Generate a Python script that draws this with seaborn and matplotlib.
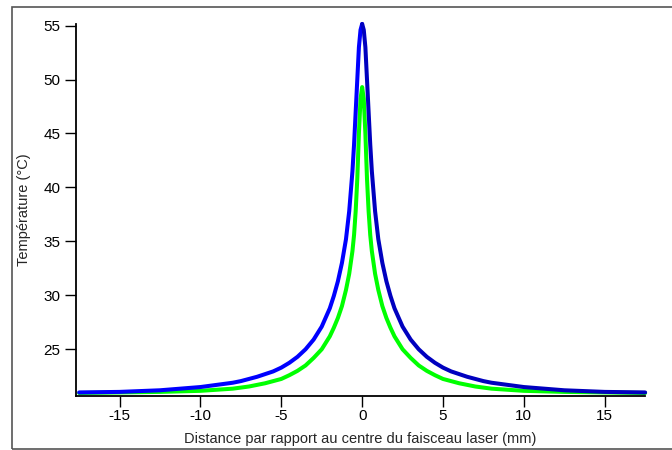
import matplotlib
matplotlib.use("Agg")
import matplotlib.pyplot as plt
from matplotlib.patches import Rectangle
import pandas as pd
import seaborn as sns

# values (distance in mm, temperature in degC)
distance_mm = [-17.5, -15.0, -12.5, -10.0, -9.0, -8.0, -7.5, -7.0, -6.5, -6.0, -5.5, -5.0, -4.5,
               -4.0, -3.5, -3.0, -2.5, -2.0, -1.75, -1.5, -1.25, -1.0, -0.8, -0.6, -0.5,
               -0.4, -0.3, -0.2, -0.1, 0.0,
               0.1, 0.2, 0.3, 0.4, 0.5, 0.6, 0.8, 1.0, 1.25, 1.5, 1.75, 2.0, 2.5,
               3.0, 3.5, 4.0, 4.5, 5.0, 5.5, 6.0, 6.5, 7.0, 7.5, 8.0, 9.0, 10.0,
               12.5, 15.0, 17.5]
temp_blue = [21.0, 21.05, 21.2, 21.5, 21.7, 21.9, 22.05, 22.25, 22.45, 22.7, 22.95, 23.3, 23.75,
             24.3, 25.0, 25.9, 27.1, 28.8, 29.95, 31.3, 33.0, 35.2, 37.8, 41.5, 44.0,
             47.0, 50.0, 53.0, 54.6, 55.15,
             54.6, 53.0, 50.0, 47.0, 44.0, 41.5, 37.8, 35.2, 33.0, 31.3, 29.95, 28.8, 27.1,
             25.9, 25.0, 24.3, 23.75, 23.3, 22.95, 22.7, 22.45, 22.25, 22.05, 21.9, 21.7, 21.5,
             21.2, 21.05, 21.0]
temp_green = [20.95, 21.0, 21.05, 21.15, 21.25, 21.35, 21.45, 21.55, 21.7, 21.85, 22.05, 22.25, 22.6,
              23.0, 23.5, 24.2, 25.0, 26.2, 27.0, 27.9, 29.0, 30.5, 32.0, 34.1, 35.6,
              37.8, 40.8, 45.0, 48.2, 49.3,
              48.2, 45.0, 40.8, 37.8, 35.6, 34.1, 32.0, 30.5, 29.0, 27.9, 27.0, 26.2, 25.0,
              24.2, 23.5, 23.0, 22.6, 22.25, 22.05, 21.85, 21.7, 21.55, 21.45, 21.35, 21.25, 21.15,
              21.05, 21.0, 20.95]

x_ticks = [-15, -10, -5, 0, 5, 10, 15]
y_ticks = [25, 30, 35, 40, 45, 50, 55]

df = pd.DataFrame({"x": distance_mm, "blue": temp_blue, "green": temp_green})

sns.set_theme(style="ticks")
plt.rcParams["font.family"] = ["Liberation Sans", "DejaVu Sans"]

fig = plt.figure(figsize=(6.72, 4.5), dpi=100)
ax = fig.add_axes([0.113, 0.12, 0.847, 0.827])

# frame around the whole picture
fig.patches.append(Rectangle((0.018, 0.002), 1.2, 0.982, transform=fig.transFigure,
                             fill=False, edgecolor="#555555", linewidth=1.2))

lw = 2.9
sns.lineplot(data=df, x="x", y="green", ax=ax, color="#00ff00", linewidth=lw)
sns.lineplot(data=df[df["x"] <= 0], x="x", y="blue", ax=ax, color="#0000ff", linewidth=lw)
sns.lineplot(data=df[df["x"] >= 0], x="x", y="blue", ax=ax, color="#0000bf", linewidth=lw)
for ln in ax.lines:
    ln.set_clip_on(False)
    ln.set_solid_joinstyle("round")

ax.set_xlim(-17.7, 17.5)
ax.set_ylim(20.67, 55.16)
ax.set_xticks(x_ticks)
ax.set_xticklabels([str(t) for t in x_ticks])
ax.set_yticks(y_ticks)
ax.set_yticklabels([str(t) for t in y_ticks])

for side in ["top", "right"]:
    ax.spines[side].set_visible(False)
for side in ["left", "bottom"]:
    ax.spines[side].set_linewidth(1.3)
    ax.spines[side].set_color("black")
ax.tick_params(direction="out", length=8, width=1, colors="black", labelsize=11)
ax.tick_params(axis="x", pad=1)
ax.tick_params(axis="y", pad=3)

ax.set_xlabel("Distance par rapport au centre du faisceau laser (mm)", fontsize=10.5, labelpad=7)
ax.set_ylabel("Température (°C)", fontsize=10.5, labelpad=9)

fig.savefig("out.png", dpi=100)
